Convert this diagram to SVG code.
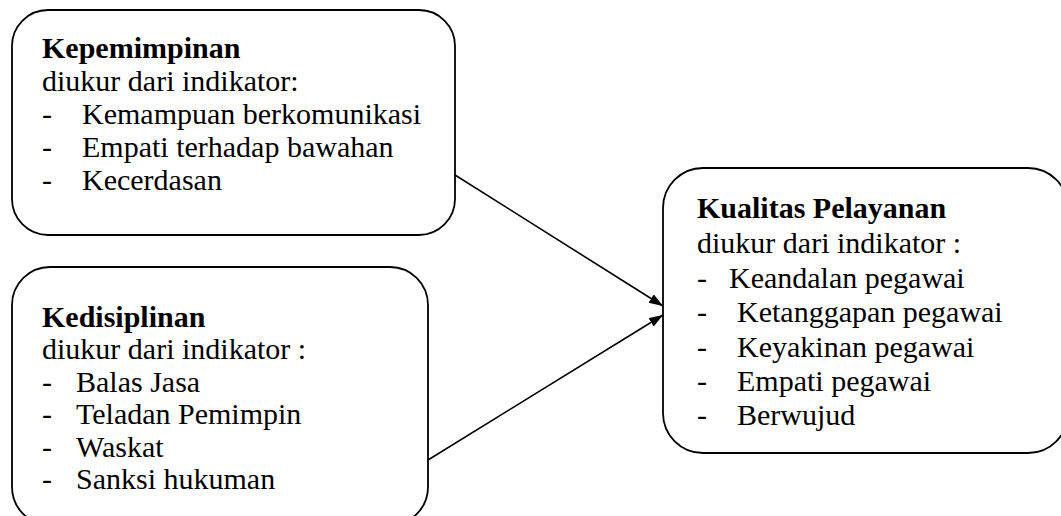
<svg xmlns="http://www.w3.org/2000/svg" width="1061" height="516" viewBox="0 0 1061 516">
<defs>
<style>
.box{fill:#fff;stroke:#000;stroke-width:1.8}
.t{font-family:"Liberation Serif","Times New Roman",serif;font-size:30px;fill:#000}
.b{font-weight:bold}
.c{stroke:#000;stroke-width:1.6;fill:none}
</style>
<marker id="ah" markerUnits="userSpaceOnUse" markerWidth="15" markerHeight="11" refX="14" refY="5" orient="auto">
<path d="M0,0 L14,5 L0,10 z" fill="#000"/>
</marker>
</defs>
<rect width="1061" height="516" fill="#fff"/>
<g id="connectors">
<line class="c" x1="455" y1="175" x2="663" y2="306" marker-end="url(#ah)"/>
<line class="c" x1="428" y1="460" x2="663" y2="315" marker-end="url(#ah)"/>
</g>
<g id="kepemimpinan">
<rect class="box" x="12" y="10" width="443" height="225" rx="36" ry="36"/>
<text class="t b" x="42" y="58">Kepemimpinan</text>
<text class="t" x="42" y="91">diukur dari indikator:</text>
<text class="t" x="42" y="124">-</text><text class="t" x="82" y="124">Kemampuan berkomunikasi</text>
<text class="t" x="42" y="157">-</text><text class="t" x="82" y="157">Empati terhadap bawahan</text>
<text class="t" x="42" y="190">-</text><text class="t" x="82" y="190">Kecerdasan</text>
</g>
<g id="kedisiplinan">
<rect class="box" x="12" y="267" width="416" height="258" rx="38" ry="38"/>
<text class="t b" x="42" y="327">Kedisiplinan</text>
<text class="t" x="42" y="359">diukur dari indikator :</text>
<text class="t" x="42" y="392">-</text><text class="t" x="76" y="392">Balas Jasa</text>
<text class="t" x="42" y="424">-</text><text class="t" x="76" y="424">Teladan Pemimpin</text>
<text class="t" x="42" y="457">-</text><text class="t" x="76" y="457">Waskat</text>
<text class="t" x="42" y="489">-</text><text class="t" x="76" y="489">Sanksi hukuman</text>
</g>
<g id="kualitas">
<rect class="box" x="663" y="168" width="405" height="285" rx="40" ry="40"/>
<text class="t b" x="697" y="218">Kualitas Pelayanan</text>
<text class="t" x="697" y="253">diukur dari indikator :</text>
<text class="t" x="697" y="288">-</text><text class="t" x="729" y="288">Keandalan pegawai</text>
<text class="t" x="697" y="322">-</text><text class="t" x="737" y="322">Ketanggapan pegawai</text>
<text class="t" x="697" y="357">-</text><text class="t" x="737" y="357">Keyakinan pegawai</text>
<text class="t" x="697" y="391">-</text><text class="t" x="737" y="391">Empati pegawai</text>
<text class="t" x="697" y="425">-</text><text class="t" x="737" y="425">Berwujud</text>
</g>
</svg>
